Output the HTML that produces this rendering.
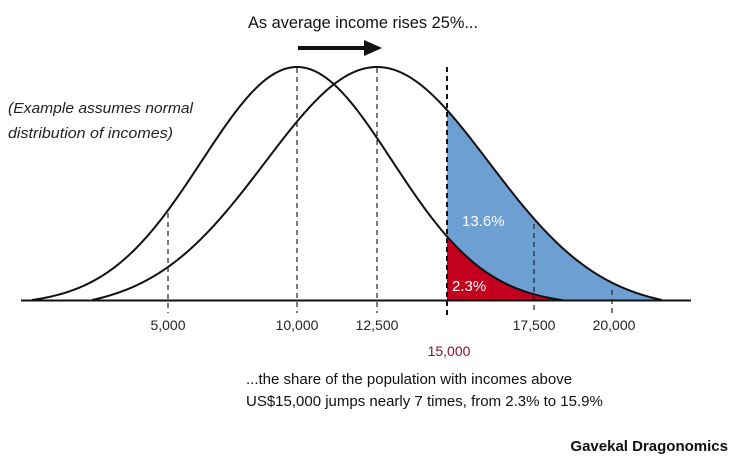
<!DOCTYPE html>
<html><head><meta charset="utf-8"><style>
body{margin:0;background:#fff;width:738px;height:467px;overflow:hidden}
svg{display:block;font-family:"Liberation Sans",sans-serif}
</style></head><body>
<svg id="s" width="738" height="467" viewBox="0 0 738 467">
<text x="248" y="28" font-size="17" fill="#111" textLength="230" lengthAdjust="spacingAndGlyphs">As average income rises 25%...</text>
<line x1="298" y1="48" x2="366" y2="48" stroke="#111" stroke-width="4"/>
<polygon points="364,40 382,48 364,56" fill="#111"/>
<text x="8" y="113" font-size="15" font-style="italic" fill="#222" textLength="185" lengthAdjust="spacingAndGlyphs">(Example assumes normal</text>
<text x="8" y="138" font-size="15" font-style="italic" fill="#222" textLength="165" lengthAdjust="spacingAndGlyphs">distribution of incomes)</text>
<path id="blue" fill="#6d9fd2"/>
<path id="red" fill="#c4001f"/>
<g stroke="#222" stroke-width="1.2" stroke-dasharray="5,4">
<line x1="168" y1="213" x2="168" y2="313"/>
<line x1="297" y1="68" x2="297" y2="313"/>
<line x1="377" y1="68" x2="377" y2="313"/>
<line x1="534" y1="224" x2="534" y2="313"/>
<line x1="612" y1="290" x2="612" y2="313"/>
</g>
<line x1="447" y1="67" x2="447" y2="316" stroke="#111" stroke-width="2" stroke-dasharray="5,4"/>
<path id="c1" fill="none" stroke="#111" stroke-width="2"/>
<path id="c2" fill="none" stroke="#111" stroke-width="2"/>
<line x1="21" y1="300.5" x2="691" y2="300.5" stroke="#111" stroke-width="2"/>
<text x="462" y="226" font-size="15" fill="#fff">13.6%</text>
<text x="452" y="291" font-size="15" fill="#fff">2.3%</text>
<g font-size="14" fill="#222" text-anchor="middle">
<text x="168" y="330">5,000</text>
<text x="297" y="330">10,000</text>
<text x="377" y="330">12,500</text>
<text x="534" y="330">17,500</text>
<text x="614" y="330">20,000</text>
<text x="449" y="356" fill="#8a1030">15,000</text>
</g>
<text x="246" y="384" font-size="15" fill="#111">...the share of the population with incomes above</text>
<text x="246" y="406" font-size="15" fill="#111">US$15,000 jumps nearly 7 times, from 2.3% to 15.9%</text>
<text x="728" y="451" font-size="15" font-weight="bold" fill="#111" text-anchor="end">Gavekal Dragonomics</text>
</svg>
<script>
function g(m,s,c,x){var e0=Math.exp(-Math.pow(c/s,2)/2);var e=Math.exp(-Math.pow((x-m)/s,2)/2);var v=(e-e0)/(1-e0);if(v<0)v=0;return 300-233*v;}
function path(m,s,c,a,b){var d="";for(var x=a;x<=b;x+=1){d+=(x==a?"M":"L")+x+","+g(m,s,c,x).toFixed(2);}return d;}
document.getElementById("c1").setAttribute("d",path(297,95,265,32,562));
document.getElementById("c2").setAttribute("d",path(377,112,285,92,662));
document.getElementById("blue").setAttribute("d",path(377,112,285,447,662)+"L662,300L447,300Z");
document.getElementById("red").setAttribute("d",path(297,95,265,447,562)+"L562,300L447,300Z");
</script>
</body></html>
